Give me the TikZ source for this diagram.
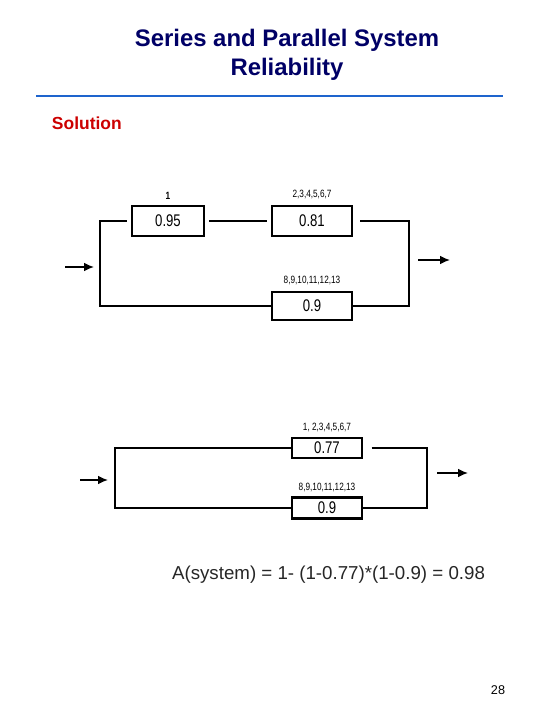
\documentclass[tikz,border=0pt]{standalone}
\usepackage{fontspec}
\setmainfont{Liberation Sans}
\usepackage{graphicx}
\usetikzlibrary{positioning,arrows.meta}
\definecolor{titleblue}{RGB}{0,0,102}
\definecolor{rulerblue}{RGB}{30,100,205}
\definecolor{solred}{RGB}{204,0,0}
\newcommand{\narrowtxt}[1]{\scalebox{0.78}[1]{#1}}
\tikzset{
  unitbox/.style  = {shape=rectangle, draw, line width=1.5pt,
                     inner sep=0pt, font=\fontsize{12}{12}\selectfont},
  tag/.style      = {font=\fontsize{7.5}{7.5}\selectfont, inner sep=1pt},
  wire/.style     = {draw, line width=0.9pt},
  flow/.style     = {draw, line width=0.9pt, -{Latex[length=7pt,width=6pt]}}
}

\begin{document}
\begin{tikzpicture}
  [
    x = 0.025cm, y = -0.025cm,
    every node/.style = {text=black}
  ]
  \useasboundingbox (0,0) rectangle (540,720);
  % heading
  \node [font=\bfseries\fontsize{17}{20.5}\selectfont, text=titleblue, align=center]
    (title) at (287,55) {Series and Parallel System\\Reliability};
  \coordinate (ruleL) at (36,96);
  \coordinate (ruleR) at (503,96);
  \draw [rulerblue, line width=2pt] (ruleL) -- (ruleR);
  \node [font=\bfseries\fontsize{12.4}{12.4}\selectfont, text=solred, anchor=west]
    (sol) at (47,123) {Solution};

  % first diagram
  \node [unitbox, minimum width=51pt, minimum height=21pt] (b95) at (168,221) {\narrowtxt{0.95}};
  \node [unitbox, minimum width=57pt, minimum height=21pt] (b81) at (312,221) {\narrowtxt{0.81}};
  \node [unitbox, minimum width=57pt, minimum height=20.5pt] (b90) at (312,306) {\narrowtxt{0.9}};
  \node [tag, above=3pt of b95] {\narrowtxt{\bfseries 1}};
  \node [tag, above=3pt of b81] {\narrowtxt{2,3,4,5,6,7}};
  \node [tag, above=3pt of b90] {\narrowtxt{8,9,10,11,12,13}};
  \coordinate (jL1) at (100,221);
  \coordinate (jL2) at (100,306);
  \coordinate (jR1) at (409,221);
  \coordinate (jR2) at (409,306);
  \draw [wire, shorten <=3pt] (b95.west) -- (jL1) -- (jL2) -- (b90.west);
  \draw [wire, shorten <=3pt, shorten >=3pt] (b95.east) -- (b81.west);
  \draw [wire, shorten <=5pt] (b81.east) -- (jR1) -- (jR2) -- (b90.east);
  \coordinate (in1a) at (65,267);
  \coordinate (in1b) at (94,267);
  \coordinate (out1a) at (418,260);
  \coordinate (out1b) at (450,260);
  \draw [flow] (in1a) -- (in1b);
  \draw [flow] (out1a) -- (out1b);

  % second diagram
  \node [unitbox, minimum width=50pt, minimum height=14.5pt] (b77) at (327,448) {\narrowtxt{0.77}};
  \node [unitbox, minimum width=50pt, minimum height=15pt] (b9) at (327,508) {\narrowtxt{0.9}};
  \node [tag, above=2pt of b77] {\narrowtxt{1, 2,3,4,5,6,7}};
  \node [tag, above=2pt of b9] {\narrowtxt{8,9,10,11,12,13}};
  \coordinate (kL1) at (115,448);
  \coordinate (kL2) at (115,508);
  \coordinate (kR1) at (427,448);
  \coordinate (kR2) at (427,508);
  \draw [wire] (b77.west) -- (kL1) -- (kL2) -- (b9.west);
  \draw [wire, shorten <=6pt] (b77.east) -- (kR1) -- (kR2) -- (b9.east);
  \coordinate (in2a) at (80,480);
  \coordinate (in2b) at (108,480);
  \coordinate (out2a) at (437,473);
  \coordinate (out2b) at (468,473);
  \draw [flow] (in2a) -- (in2b);
  \draw [flow] (out2a) -- (out2b);

  % result
  \node [font=\fontsize{13.3}{13.3}\selectfont, text=black!85] (res) at (328.5,575)
    {A(system) = 1- (1-0.77)*(1-0.9) = 0.98};
  \node [font=\fontsize{9}{9}\selectfont] (page) at (498,690) {28};
\end{tikzpicture}
\end{document}
